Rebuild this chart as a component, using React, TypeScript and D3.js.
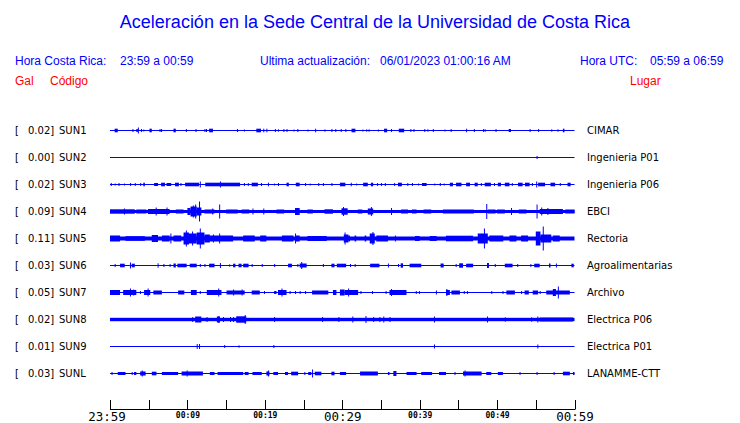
import React from 'react';
import * as d3 from 'd3';

const W = 740;
const H = 423;

// Station table
const peakGal = ['0.02', '0.00', '0.02', '0.09', '0.11', '0.03', '0.05', '0.02', '0.01', '0.03'];
const codes = ['SUN1', 'SUN2', 'SUN3', 'SUN4', 'SUN5', 'SUN6', 'SUN7', 'SUN8', 'SUN9', 'SUNL'];
const places = ['CIMAR', 'Ingenieria P01', 'Ingenieria P06', 'EBCI', 'Rectoria', 'Agroalimentarias', 'Archivo', 'Electrica P06', 'Electrica P01', 'LANAMME-CTT'];
// background noise half-amplitude (relative units) per station
const baseAmp = [0.5, 0.5, 0.5, 1.5, 2, 0.5, 0.5, 1.7, 0.5, 0.5];

// Bursts: [start minute, end minute, half amplitude] (minutes after 23:59)
const sun1: number[][] = [[0.6,1.0,1.8],[2.9,2.9,1.5],[3.4,3.6,1.5],[3.6,3.6,3],[4.0,4.0,1.5],[4.3,4.3,1],[5.1,5.4,1.8],[6.4,6.4,1.5],[6.6,6.6,1.5],[8.2,8.5,1.8],[9.8,9.8,1.5],[11.05,11.05,1.5],[12.2,12.2,1.5],[12.4,12.4,1.5],[12.8,13.3,1.8],[16.4,16.4,1.5],[17.3,17.3,1],[18.9,19.5,1.8],[19.8,19.8,1.8],[20.2,20.2,1.8],[21.3,21.3,1.5],[21.7,21.7,1.2],[22.4,22.4,1.5],[22.8,22.8,1.5],[23.7,23.7,1],[24.2,24.2,1.5],[25.5,25.5,1],[26.5,26.5,1.8],[27.7,27.7,1.2],[28.6,28.6,1.5],[29.1,29.1,1.5],[29.8,29.8,1.5],[30.4,30.4,1.5],[31.2,31.7,1.8],[32.6,32.6,1],[33.1,33.1,1.2],[33.4,33.4,1.2],[34.6,34.6,1],[35.4,35.8,1.8],[36.3,36.3,1.5],[37.3,38.0,1.8],[38.8,38.8,1.5],[39.2,39.2,1.5],[40.6,40.6,1.5],[41.0,41.0,1.2],[41.7,41.7,1.5],[43.2,43.2,1],[44.0,44.0,1.5],[46.0,46.0,1.8],[47.0,47.0,1.5],[48.2,48.2,1.5],[48.4,48.4,1.2],[49.8,49.8,1.5],[51.5,51.8,1.5],[54.2,54.2,1.5],[55.3,55.3,1.5],[57.0,57.0,1.2],[57.8,57.8,1.2],[58.5,58.7,1.8]];
const sun2: number[][] = [[55.1,55.1,1.5]];
const sun3: number[][] = [[0.1,0.1,1.5],[0.6,0.6,1],[1.1,1.1,1.5],[1.8,1.8,1],[2.6,2.6,1.5],[3.2,3.2,1.5],[3.9,3.9,1.5],[4.3,4.5,1.8],[5.7,6.2,1.5],[6.6,7.1,1.8],[7.3,7.9,1.5],[8.4,8.9,1.8],[9.1,9.1,1.5],[9.7,11.5,1.8],[11.6,11.6,3],[12.3,16.8,1.8],[14.2,14.2,3],[17.3,17.3,1.5],[17.8,17.8,1.5],[18.3,19.1,1.8],[19.5,19.5,1.5],[20.4,20.4,1.8],[21.2,21.2,1],[21.7,21.7,1.5],[22.8,23.1,1.8],[24.0,24.5,1.8],[25.2,25.2,1.5],[25.8,25.8,1],[26.9,26.9,1.5],[27.5,27.5,1.5],[28.6,28.6,1.5],[29.7,30.4,1.8],[31.1,31.1,1.8],[31.8,31.8,1],[32.7,33.3,1.8],[33.7,34.0,1.8],[34.5,34.5,1.5],[35.0,35.0,1.5],[35.5,35.5,1.5],[36.7,36.7,1.5],[37.2,37.7,1.8],[38.4,38.4,1.5],[39.0,39.0,1.5],[39.8,39.8,1],[40.3,40.9,1.5],[41.9,41.9,1],[42.6,42.6,1.5],[43.1,43.1,1],[43.9,44.3,1.8],[44.7,45.4,1.8],[46.0,46.5,1.8],[47.1,47.5,1.8],[47.9,47.9,1.5],[48.4,49.2,1.8],[49.6,49.6,1.5],[50.1,50.5,1.8],[51.0,51.6,1.8],[51.9,51.9,1.5],[52.7,53.3,1.8],[53.6,54.2,1.8],[54.5,54.5,1.5],[55.05,55.05,3],[55.3,56.2,1.8],[56.9,57.5,1.8],[58.1,58.1,1.5],[59.1,59.5,1.8]];
const sun4: number[][] = [[0,3.2,2.2],[1.8,1.8,3],[3.4,4.7,2],[4.9,7.7,2.5],[5.9,5.9,4],[7.3,7.3,4],[8.5,9.5,2],[10.0,10.4,3.5],[10.4,11.2,5],[10.7,10.7,6],[11.2,11.8,4],[11.5,11.5,10],[11.0,11.0,7],[12.2,13.5,2],[13.2,13.2,3],[14.1,14.1,7],[15.0,16.5,2],[17.0,18.0,2],[18.4,18.4,3],[19.8,19.8,3],[21.5,22.5,2],[23.9,24.5,3.5],[25.5,26.2,2],[27.7,28.8,2.2],[29.9,30.7,3.2],[30.1,30.1,4.5],[32.0,32.6,2],[33.3,34.0,3],[33.7,33.7,4.5],[36.3,36.3,3.5],[37.6,38.5,2],[39.0,39.6,2],[40.5,41.5,2],[43.0,47.0,2],[48.6,48.6,7.5],[48.8,49.8,2],[50.0,51.0,2],[51.8,51.8,3.5],[52.8,53.8,2],[55.1,55.1,7],[55.5,58.5,2.5],[55.7,55.7,4],[56.5,56.5,3.5],[58.8,60,2]];
const sun5: number[][] = [[0,1.3,3],[2.0,4.5,2.3],[5.4,6.2,3.5],[6.7,7.7,3],[7.8,7.8,5],[8.2,9.2,3],[9.5,10.2,6],[9.8,9.8,8],[10.2,11.2,5],[10.6,10.6,7],[11.2,12.2,6],[11.6,11.6,10],[12.2,12.9,4],[12.9,15.9,3],[13.3,13.3,4],[14.1,14.1,5],[17.2,18.7,3],[19.4,20.2,3],[22.2,23.7,3],[23.9,23.9,5],[24.0,24.5,3],[25.5,28.0,2.5],[30.2,30.8,4],[30.3,30.3,6],[30.8,31.0,3],[31.6,31.8,3],[32.9,33.1,3],[33.55,34.2,5],[33.9,33.9,6.5],[34.4,35.9,3],[36.8,36.8,3],[39.4,40.0,2.5],[41.3,42.2,2.5],[43.4,46.9,2.8],[47.5,48.8,5],[48.3,48.3,10],[49.0,50.8,3],[51.6,52.5,3],[53.1,54.0,3],[55.0,55.6,7],[55.9,55.9,12],[55.6,57.0,4],[57.2,58.1,3]];
const sun6: number[][] = [[0.6,0.6,1.5],[1.3,1.9,1.8],[2.58,2.58,3],[2.8,3.2,1.8],[6.15,6.15,2.2],[6.9,6.9,1.5],[7.7,7.7,1.5],[8.2,8.5,2],[8.7,9.9,1.8],[10.3,11.2,1.8],[11.6,11.6,1.5],[12.2,12.2,1.5],[12.8,13.5,1.8],[14.2,14.2,2.5],[15.4,15.4,1.2],[15.9,16.2,1.8],[16.6,17.0,1.8],[17.2,17.9,1.8],[18.3,18.3,1.5],[19.6,19.6,1.5],[21.2,21.2,1.5],[23.0,23.5,1.8],[24.2,24.2,1.5],[24.5,25.4,2],[24.7,24.7,3.5],[27.5,27.5,1.5],[28.6,29.0,1.8],[29.3,30.5,1.8],[31.0,31.0,1.5],[31.6,31.6,1.5],[33.6,34.8,1.8],[35.9,35.9,2],[37.2,37.2,1.5],[37.55,37.85,2.2],[38.7,40.2,1.8],[42.7,43.1,2],[44.65,44.65,1.5],[45.1,45.6,2.2],[46.0,46.9,1.8],[48.7,48.95,2.5],[49.7,49.7,1.5],[51.0,52.0,1.8],[52.6,52.6,1.5],[54.3,54.3,1.5],[54.8,55.5,1.8],[56.7,56.9,2],[57.6,57.6,2],[59.6,59.9,1.8]];
const sun7: number[][] = [[0,1.3,2.5],[1.7,3.4,2.5],[2.58,2.58,4],[3.0,3.0,3],[3.87,3.87,1.5],[4.4,5.2,2.5],[4.86,4.86,4],[5.6,6.7,2],[8.8,9.6,2],[10.45,11.2,2.5],[11.6,11.6,1.5],[12.5,14.4,2.5],[13.98,13.98,4],[15.05,17.4,2],[15.9,15.9,3],[17.0,17.0,3],[18.3,19.35,2],[19.9,19.9,1.5],[21.2,21.5,1.5],[21.7,22.8,2.5],[22.15,22.15,4],[23.2,23.2,1.5],[23.9,23.9,1.5],[24.5,24.5,1.5],[25.2,25.2,1.5],[26.1,28.2,2],[28.8,29.25,2.5],[29.7,30.3,3],[30.76,30.76,4],[30.3,32.05,2.5],[32.35,32.35,1.5],[33.85,33.85,1.5],[35.6,35.6,1.5],[36.1,38.3,2.5],[36.3,36.3,3.5],[39.5,39.5,1.5],[39.9,39.9,1.5],[42.1,42.1,2],[43.4,43.9,2.5],[43.45,43.45,3.5],[44.1,45.2,2],[45.7,45.7,1.5],[46.1,46.1,1.5],[49.25,49.25,1.5],[50.7,50.7,1.5],[51.2,52.3,2],[53.1,53.1,1.5],[53.55,54.1,2],[54.6,55.3,2],[55.5,55.5,1.5],[56.35,59.4,2],[57.2,57.6,3.5],[57.85,57.85,6]];
const sun8: number[][] = [[10.62,10.62,2.5],[11.0,11.8,3],[12.47,12.47,2.5],[13.8,14.2,3],[14.0,14.0,3.5],[14.6,14.6,2.5],[15.5,15.5,2.5],[15.9,15.9,2.5],[16.3,17.6,3.2],[17.4,17.4,4.5],[21.2,21.2,2.5],[27.4,27.4,2.5],[29.5,29.5,2.5],[31.3,31.3,3],[33.0,33.0,3.5],[34.0,34.0,2.5],[34.8,34.8,2.5],[35.3,35.3,3],[36.1,36.1,2.5],[41.85,41.85,3],[48.7,48.7,3],[51.0,51.0,2.2],[54.4,54.4,2.2],[55.2,55.2,3],[55.5,59.8,2]];
const sun9: number[][] = [[11.2,11.2,2.5],[11.5,11.5,2.5],[14.75,14.75,1.5],[16.6,16.6,1.2],[21.1,21.2,1.5],[41.85,41.85,2],[55.2,55.2,2]];
const sunl: number[][] = [[0.2,0.2,1.5],[1.0,2.0,1.5],[2.8,2.8,1.5],[3.1,3.4,1.5],[3.9,4.6,2],[4.1,4.1,3],[5.4,6.0,1.8],[6.7,8.8,1.5],[9.25,12.0,2],[9.9,9.9,3],[12.9,13.5,1.5],[13.9,17.2,1.5],[17.4,17.9,1.5],[18.4,19.6,1.5],[20.2,20.6,2],[20.4,20.4,3],[21.1,21.7,1.5],[22.6,23.0,1.5],[23.4,24.3,1.8],[25.1,25.1,1.5],[25.6,26.0,1.5],[26.1,26.1,4],[26.45,27.3,1.8],[28.6,29.0,1.8],[29.7,30.5,1.5],[32.3,34.6,2],[35.9,36.1,1.5],[36.6,37.0,2.5],[38.3,39.6,1.5],[40.2,41.6,1.5],[42.5,43.4,1.5],[44.5,44.5,1.5],[45.6,48.0,2],[45.8,45.8,3],[48.6,49.25,1.5],[50.1,50.75,1.5],[52.9,52.9,1.5],[55.1,55.1,1.5],[57.3,57.3,1.5],[58.5,59.4,1.8],[59.8,60,1.5]];
const bursts = [sun1, sun2, sun3, sun4, sun5, sun6, sun7, sun8, sun9, sunl];

// Time axis
const tickMinutes = d3.range(0, 61, 5);
const labelMinutes = [0, 10, 20, 30, 40, 50, 60];
const labelTexts = ['23:59', '00:09', '00:19', '00:29', '00:39', '00:49', '00:59'];
const labelMajor = [true, false, false, true, false, false, true];

const BLUE = '#0000ff';
const RED = '#ff0000';
const SANS = '"Liberation Sans", Arial, sans-serif';
const DEJA = '"DejaVu Sans", sans-serif';
const MONO = '"DejaVu Sans Mono", monospace';

export default function App() {
  const x = d3.scaleLinear().domain([0, 60]).range([110, 574.5]);
  const rowY = d3.scalePoint<string>().domain(codes).range([130.5, 373.5]);
  const amp = d3.scaleLinear().domain([-12, 12]).range([12, -12]);
  const axisY = 409.5;

  return (
    <svg width={W} height={H} style={{ position: 'absolute', left: 0, top: 0, background: '#fff' }}>
      <text x={375} y={28} textAnchor="middle" fill={BLUE} fontFamily={SANS} fontSize={18}>
        Aceleración en la Sede Central de la Universidad de Costa Rica
      </text>
      <g fontFamily={SANS} fontSize={12} fill={BLUE}>
        <text x={15} y={65}>Hora Costa Rica:</text>
        <text x={120} y={65}>23:59 a 00:59</text>
        <text x={260} y={65}>Ultima actualización:</text>
        <text x={380} y={65}>06/01/2023 01:00:16 AM</text>
        <text x={580} y={65}>Hora UTC:</text>
        <text x={650} y={65}>05:59 a 06:59</text>
      </g>
      <g fontFamily={SANS} fontSize={12} fill={RED}>
        <text x={15} y={85}>Gal</text>
        <text x={50} y={85}>Código</text>
        <text x={630} y={85}>Lugar</text>
      </g>

      {codes.map((c, i) => {
        const y = rowY(c) as number;
        const b = baseAmp[i];
        return (
          <g key={c} transform={`translate(0,${y})`}>
            <g fontFamily={DEJA} fontSize={10} fill="#000">
              <text x={15} y={3.5}>[</text>
              <text x={28} y={3.5}>{peakGal[i]}]</text>
              <text x={59} y={3.5}>{c}</text>
              <text x={587} y={3.5}>{places[i]}</text>
            </g>
            <rect x={x(0)} width={x(60) - x(0)} y={amp(b)} height={amp(-b) - amp(b)} fill={BLUE} />
            {bursts[i].map((e, k) => {
              const x0 = x(e[0]);
              const w = Math.max(1, x(e[1]) - x0);
              return (
                <rect key={k} x={x0} width={w} y={amp(e[2])} height={amp(-e[2]) - amp(e[2])} fill={BLUE} />
              );
            })}
          </g>
        );
      })}

      <g stroke="#000" strokeWidth={1}>
        <line x1={x(0)} x2={x(60) + 0.5} y1={axisY} y2={axisY} />
        {tickMinutes.map((m) => (
          <line key={m} x1={Math.round(x(m)) + 0.5} x2={Math.round(x(m)) + 0.5} y1={400} y2={axisY} />
        ))}
      </g>
      {labelMinutes.map((m, i) => (
        labelMajor[i] ? (
          <text key={m} x={x(m) + (i === 0 ? -3 : 0.5)} y={421} textAnchor="middle" fontFamily={MONO} fontSize={12.5} fill="#000">
            {labelTexts[i]}
          </text>
        ) : (
          <text key={m} x={x(m) + 0.5} y={417.5} textAnchor="middle" fontFamily={MONO} fontWeight="bold" fontSize={8} fill="#000">
            {labelTexts[i]}
          </text>
        )
      ))}
    </svg>
  );
}
